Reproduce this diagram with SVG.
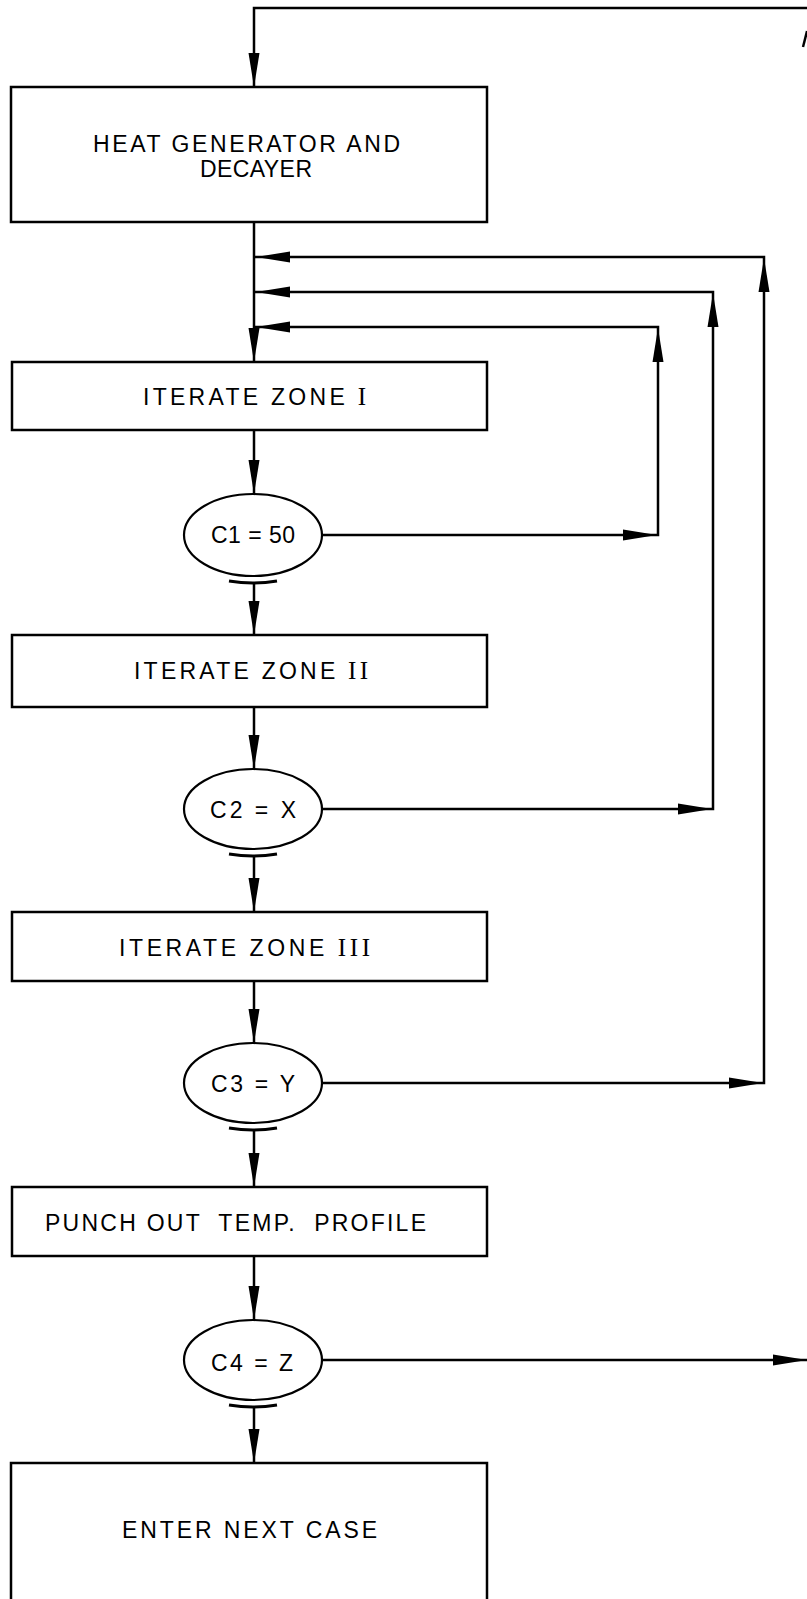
<svg xmlns="http://www.w3.org/2000/svg" xmlns:xlink="http://www.w3.org/1999/xlink" width="807" height="1599" viewBox="0 0 807 1599">
<style>
  .box { fill: #fff; stroke: #000; stroke-width: 2.5; }
  .dec { fill: #fff; stroke: #000; stroke-width: 2.2; }
  .lbl { font-family: "Liberation Sans", Arial, sans-serif; font-size: 23px; fill: #000; }
  .rn { font-family: "Liberation Serif", "Times New Roman", serif; font-size: 25px; }
  .wire { fill: none; stroke: #000; stroke-width: 2.5; }
  .tick { fill: none; stroke: #000; stroke-width: 3; }
  .ah { fill: #000; }
</style>
<defs>
  <path id="ah" class="ah" d="M0,0 L-5.5,-34 L5.5,-34 Z"/>
</defs>
<rect width="807" height="1599" fill="#fff"/>

<g id="connectors">
  <path class="wire" d="M807,8 H254 V87"/>
  <path class="wire" d="M254,222 V362"/>
  <path class="wire" d="M254,430 V494"/>
  <path class="wire" d="M254,583 V635"/>
  <path class="wire" d="M254,707 V769"/>
  <path class="wire" d="M254,855 V912"/>
  <path class="wire" d="M254,981 V1043"/>
  <path class="wire" d="M254,1129 V1187"/>
  <path class="wire" d="M254,1256 V1320"/>
  <path class="wire" d="M254,1406 V1463"/>
  <path class="wire" d="M322,535 H658 V327 H254"/>
  <path class="wire" d="M322,809 H713 V292 H254"/>
  <path class="wire" d="M322,1083 H764 V257 H254"/>
  <path class="wire" d="M322,1360 H807"/>
  <path class="wire" d="M807,31 L803,47"/>
  <!-- ticks under decisions -->
  <path class="tick" d="M229,581 Q253,585 277,581"/>
  <path class="tick" d="M229,854 Q253,858 277,854"/>
  <path class="tick" d="M229,1128 Q253,1132 277,1128"/>
  <path class="tick" d="M229,1405 Q253,1409 277,1405"/>
  <!-- down arrowheads -->
  <use xlink:href="#ah" transform="translate(254,87)"/>
  <use xlink:href="#ah" transform="translate(254,362)"/>
  <use xlink:href="#ah" transform="translate(254,494)"/>
  <use xlink:href="#ah" transform="translate(254,635)"/>
  <use xlink:href="#ah" transform="translate(254,769)"/>
  <use xlink:href="#ah" transform="translate(254,912)"/>
  <use xlink:href="#ah" transform="translate(254,1043)"/>
  <use xlink:href="#ah" transform="translate(254,1187)"/>
  <use xlink:href="#ah" transform="translate(254,1320)"/>
  <use xlink:href="#ah" transform="translate(254,1463)"/>
  <!-- left arrowheads -->
  <use xlink:href="#ah" transform="translate(256,257) rotate(90)"/>
  <use xlink:href="#ah" transform="translate(256,292) rotate(90)"/>
  <use xlink:href="#ah" transform="translate(256,327) rotate(90)"/>
  <!-- up arrowheads -->
  <use xlink:href="#ah" transform="translate(764,258) rotate(180)"/>
  <use xlink:href="#ah" transform="translate(713,293) rotate(180)"/>
  <use xlink:href="#ah" transform="translate(658,328) rotate(180)"/>
  <!-- right arrowheads -->
  <use xlink:href="#ah" transform="translate(657,535) rotate(-90)"/>
  <use xlink:href="#ah" transform="translate(712,809) rotate(-90)"/>
  <use xlink:href="#ah" transform="translate(763,1083) rotate(-90)"/>
  <use xlink:href="#ah" transform="translate(807,1360) rotate(-90)"/>
</g>

<g id="heat">
  <rect class="box" x="11" y="87" width="476" height="135"/>
  <text class="lbl" x="93" y="152" textLength="307" lengthAdjust="spacing">HEAT GENERATOR AND</text>
  <text class="lbl" x="200" y="177" textLength="112" lengthAdjust="spacing">DECAYER</text>
</g>

<g id="zone1">
  <rect class="box" x="12" y="362" width="475" height="68"/>
  <text class="lbl" x="143" y="405" textLength="223" lengthAdjust="spacing">ITERATE ZONE <tspan class="rn">I</tspan></text>
</g>

<g id="c1">
  <ellipse class="dec" cx="253" cy="535" rx="69" ry="41"/>
  <text class="lbl" x="211" y="543" textLength="84" lengthAdjust="spacing">C1 = 50</text>
</g>

<g id="zone2">
  <rect class="box" x="12" y="635" width="475" height="72"/>
  <text class="lbl" x="134" y="679" textLength="234" lengthAdjust="spacing">ITERATE ZONE <tspan class="rn">II</tspan></text>
</g>

<g id="c2">
  <ellipse class="dec" cx="253" cy="809" rx="69" ry="40"/>
  <text class="lbl" x="210" y="818" textLength="86" lengthAdjust="spacing">C2 = X</text>
</g>

<g id="zone3">
  <rect class="box" x="12" y="912" width="475" height="69"/>
  <text class="lbl" x="119" y="956" textLength="251" lengthAdjust="spacing">ITERATE ZONE <tspan class="rn">III</tspan></text>
</g>

<g id="c3">
  <ellipse class="dec" cx="253" cy="1083" rx="69" ry="40"/>
  <text class="lbl" x="211" y="1092" textLength="84" lengthAdjust="spacing">C3 = Y</text>
</g>

<g id="punch">
  <rect class="box" x="12" y="1187" width="475" height="69"/>
  <text class="lbl" x="45" y="1231" textLength="381" lengthAdjust="spacing" xml:space="preserve">PUNCH OUT  TEMP.  PROFILE</text>
</g>

<g id="c4">
  <ellipse class="dec" cx="253" cy="1360" rx="69" ry="40"/>
  <text class="lbl" x="211" y="1371" textLength="82" lengthAdjust="spacing">C4 = Z</text>
</g>

<g id="enter">
  <path class="box" d="M11,1601 V1463 H487 V1601"/>
  <text class="lbl" x="122" y="1538" textLength="255" lengthAdjust="spacing">ENTER NEXT CASE</text>
</g>
</svg>
